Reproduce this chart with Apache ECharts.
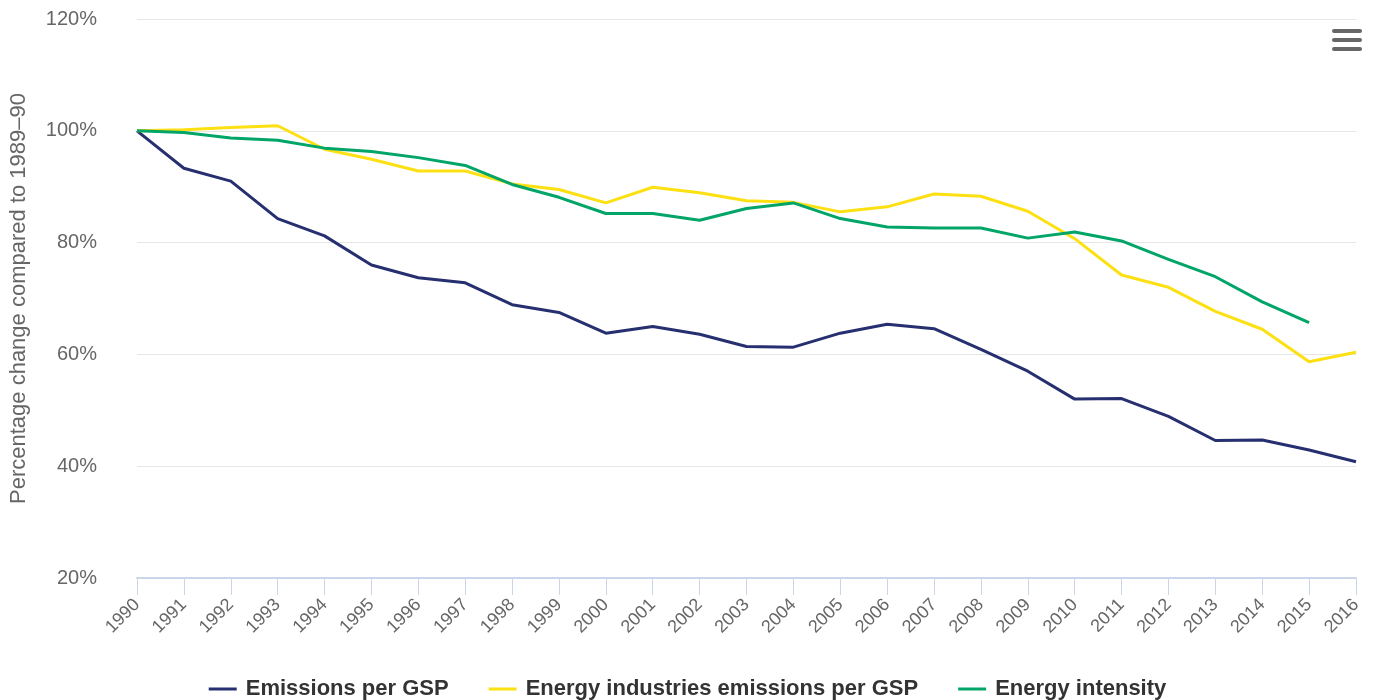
<!DOCTYPE html>
<html>
<head>
<meta charset="utf-8">
<script src="https://cdn.jsdelivr.net/npm/echarts@6/dist/echarts.min.js"></script>
<style>
html,body{margin:0;padding:0;background:#fff;}
#chart{width:1375px;height:700px;}
</style>
</head>
<body>
<div id="chart"></div>
<script>
const years = ['1990','1991','1992','1993','1994','1995','1996','1997','1998','1999','2000','2001','2002','2003','2004','2005','2006','2007','2008','2009','2010','2011','2012','2013','2014','2015','2016'];
const emissionsPerGSP = [100,93.3,91.0,84.3,81.2,76.0,73.7,72.8,68.9,67.5,63.8,65.0,63.6,61.4,61.3,63.8,65.4,64.6,60.9,57.0,52.0,52.1,48.9,44.6,44.7,42.9,40.8];
const energyIndustriesPerGSP = [100,100.2,100.6,100.9,96.7,94.9,92.8,92.8,90.5,89.5,87.1,89.9,88.9,87.5,87.2,85.5,86.4,88.7,88.3,85.6,80.7,74.2,72.0,67.7,64.5,58.7,60.4];
const energyIntensity = [100,99.7,98.7,98.3,96.9,96.3,95.2,93.8,90.4,88.1,85.2,85.2,84.0,86.1,87.1,84.3,82.8,82.6,82.6,80.8,81.9,80.3,77.0,73.9,69.4,65.7,null];
const seriesNames = ['Emissions per GSP','Energy industries emissions per GSP','Energy intensity'];
const colors = ['#262f6f','#fde012','#00a567'];

const chart = echarts.init(document.getElementById('chart'));
const font = '"Liberation Sans", Arial, sans-serif';
chart.setOption({
  animation: false,
  textStyle: {fontFamily: font},
  color: colors,
  grid: {left: 137, right: 19, top: 19, bottom: 122, containLabel: false, outerBoundsMode: 'none'},
  legend: {
    top: 673, left: 'center', itemGap: 40, itemWidth: 28, itemHeight: 3,
    icon: 'rect',
    textStyle: {fontSize: 22, fontWeight: 'bold', color: '#333', fontFamily: font, padding: [0, 0, 0, 4]},
    data: seriesNames
  },
  xAxis: {
    type: 'category', data: years, boundaryGap: false,
    axisLine: {lineStyle: {color: '#ccd6eb', width: 2}},
    axisTick: {length: 17, lineStyle: {color: '#ccd6eb', width: 1}},
    axisLabel: {rotate: 45, fontSize: 18, color: '#666', margin: 24, fontFamily: font}
  },
  yAxis: {
    type: 'value', min: 20, max: 120, interval: 20,
    name: 'Percentage change compared to 1989–90',
    nameLocation: 'middle', nameGap: 107,
    nameTextStyle: {fontSize: 22, color: '#666', fontFamily: font},
    axisLine: {show: false}, axisTick: {show: false},
    axisLabel: {formatter: '{value}%', fontSize: 20, color: '#666', margin: 40, fontFamily: font},
    splitLine: {lineStyle: {color: '#e6e6e6', width: 1}}
  },
  series: [
    {name: seriesNames[0], type: 'line', data: emissionsPerGSP, showSymbol: false, lineStyle: {width: 3}},
    {name: seriesNames[1], type: 'line', data: energyIndustriesPerGSP, showSymbol: false, lineStyle: {width: 3}},
    {name: seriesNames[2], type: 'line', data: energyIntensity, showSymbol: false, lineStyle: {width: 3}}
  ],
  graphic: [
    {type: 'rect', right: 13, top: 29, shape: {width: 30, height: 4, r: 2}, style: {fill: '#666'}},
    {type: 'rect', right: 13, top: 38, shape: {width: 30, height: 4, r: 2}, style: {fill: '#666'}},
    {type: 'rect', right: 13, top: 47, shape: {width: 30, height: 4, r: 2}, style: {fill: '#666'}}
  ]
});
</script>
</body>
</html>
